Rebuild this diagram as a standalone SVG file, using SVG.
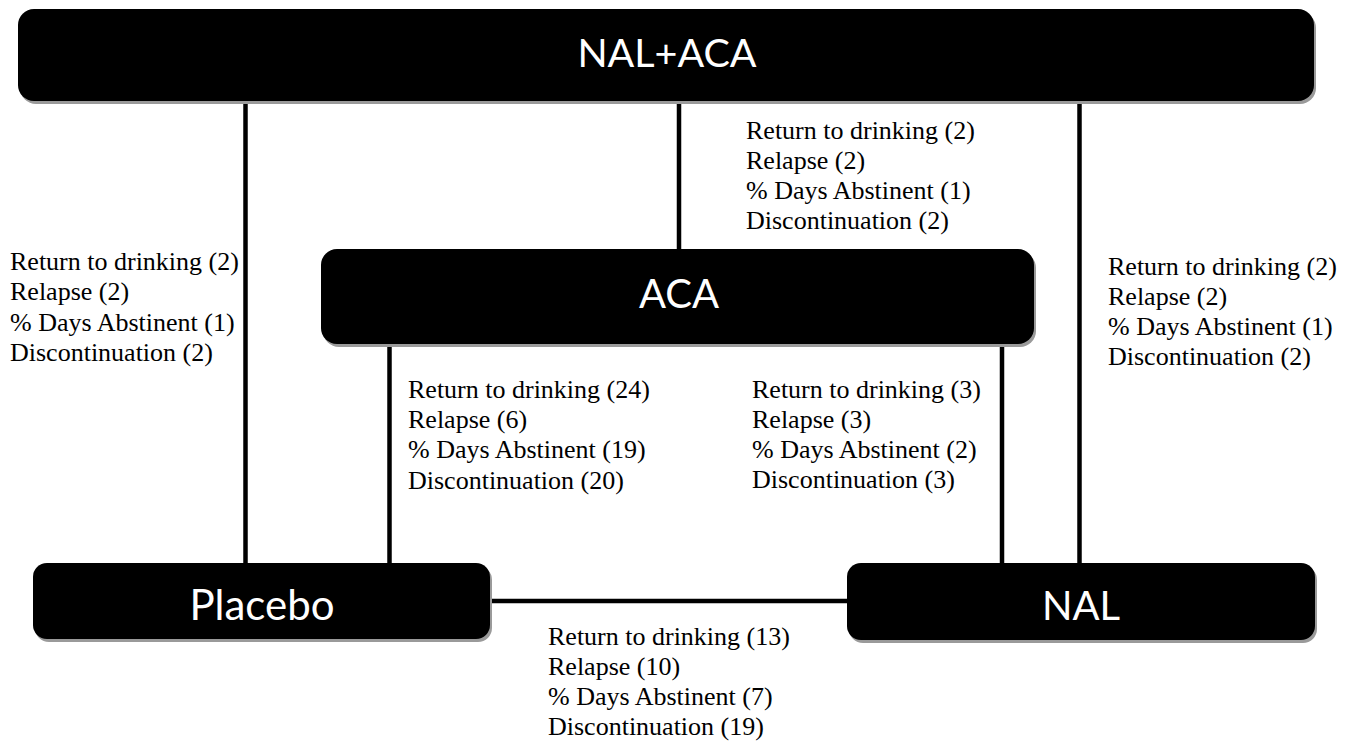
<svg xmlns="http://www.w3.org/2000/svg" width="1355" height="743" viewBox="0 0 1355 743">
<style>
.box{fill:#000}
.shd{fill:#9a9a9a}
.lbl{fill:#fff;font-family:Lato,"Open Sans",sans-serif;text-anchor:middle}
.t{font-family:"Liberation Serif","Times New Roman",Times,serif;font-size:26px;fill:#000}
.edge{stroke:#000;stroke-width:4.5;fill:none}
</style>
<rect width="1355" height="743" fill="#fff"/>
<g id="connectors">
<line class="edge" x1="245.5" y1="100" x2="245.5" y2="565"/>
<line class="edge" x1="679" y1="100" x2="679" y2="251"/>
<line class="edge" x1="1079.5" y1="100" x2="1079.5" y2="565"/>
<line class="edge" x1="389.5" y1="342" x2="389.5" y2="565"/>
<line class="edge" x1="1002" y1="342" x2="1002" y2="565"/>
<line class="edge" x1="488" y1="601" x2="849" y2="601"/>
</g>
<g id="labels">
<text class="t" x="746" y="139">Return to drinking (2)</text>
<text class="t" x="746" y="169">Relapse (2)</text>
<text class="t" x="746" y="199">% Days Abstinent (1)</text>
<text class="t" x="746" y="229">Discontinuation (2)</text>
<text class="t" x="10" y="270">Return to drinking (2)</text>
<text class="t" x="10" y="300">Relapse (2)</text>
<text class="t" x="10" y="331">% Days Abstinent (1)</text>
<text class="t" x="10" y="361">Discontinuation (2)</text>
<text class="t" x="1108" y="275">Return to drinking (2)</text>
<text class="t" x="1108" y="305">Relapse (2)</text>
<text class="t" x="1108" y="335">% Days Abstinent (1)</text>
<text class="t" x="1108" y="365">Discontinuation (2)</text>
<text class="t" x="408" y="398">Return to drinking (24)</text>
<text class="t" x="408" y="428">Relapse (6)</text>
<text class="t" x="408" y="458">% Days Abstinent (19)</text>
<text class="t" x="408" y="489">Discontinuation (20)</text>
<text class="t" x="752" y="398">Return to drinking (3)</text>
<text class="t" x="752" y="428">Relapse (3)</text>
<text class="t" x="752" y="458">% Days Abstinent (2)</text>
<text class="t" x="752" y="488">Discontinuation (3)</text>
<text class="t" x="548" y="645">Return to drinking (13)</text>
<text class="t" x="548" y="675">Relapse (10)</text>
<text class="t" x="548" y="705">% Days Abstinent (7)</text>
<text class="t" x="548" y="735">Discontinuation (19)</text>
</g>
<g id="node-nalaca">
<rect class="shd" x="20" y="12" width="1296" height="92" rx="16"/>
<rect class="box" x="18" y="9" width="1296" height="92" rx="16"/>
<text class="lbl" x="667" y="67" font-size="39.5">NAL+ACA</text>
</g>
<g id="node-aca">
<rect class="shd" x="323" y="252" width="713" height="95" rx="16"/>
<rect class="box" x="321" y="249" width="713" height="95" rx="16"/>
<text class="lbl" x="679" y="308" font-size="40">ACA</text>
</g>
<g id="node-placebo">
<rect class="shd" x="35" y="566" width="457" height="76" rx="14"/>
<rect class="box" x="33" y="563" width="457" height="76" rx="14"/>
<text class="lbl" x="262" y="620" font-size="42">Placebo</text>
</g>
<g id="node-nal">
<rect class="shd" x="849" y="566" width="468" height="77" rx="14"/>
<rect class="box" x="847" y="563" width="468" height="77" rx="14"/>
<text class="lbl" x="1081" y="620" font-size="40">NAL</text>
</g>
</svg>
